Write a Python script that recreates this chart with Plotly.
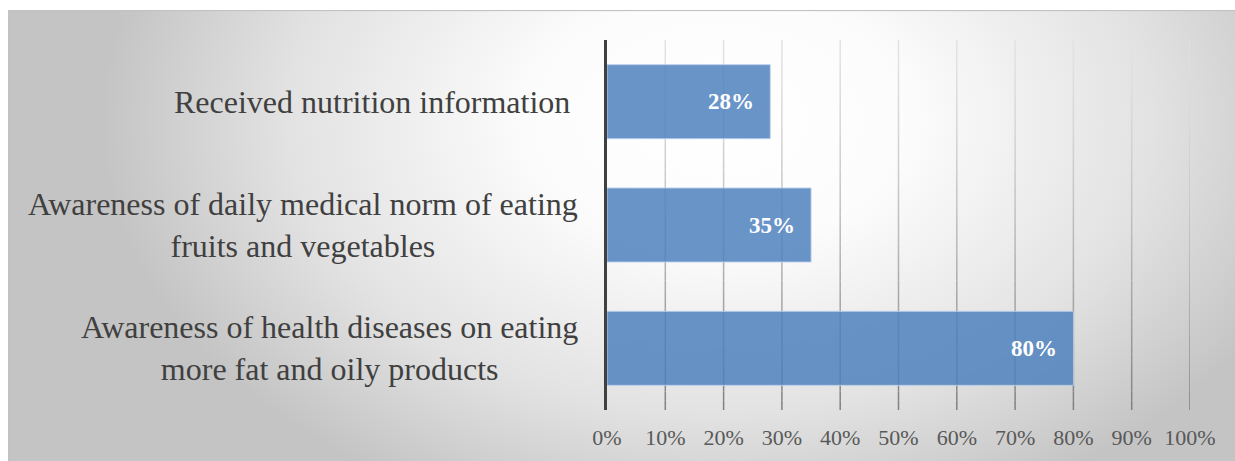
import base64
import plotly.graph_objects as go

# --- data -------------------------------------------------------------
categories = [
    "Received nutrition information\u00a0",
    "Awareness of daily medical norm of eating<br>fruits and vegetables",
    "Awareness of health diseases on eating<br>more fat and oily products",
]
shares = [0.28, 0.35, 0.80]
tick_vals = [0.0, 0.1, 0.2, 0.3, 0.4, 0.5, 0.6, 0.7, 0.8, 0.9, 1.0]
tick_text = ["0%", "10%", "20%", "30%", "40%", "50%", "60%", "70%", "80%", "90%", "100%"]

# --- page geometry (pixels) ------------------------------------------
W, H = 1235, 461
L, R, T, B = 607, 45, 40, 51
PW, PH = W - L - R, H - T - B

def px_to_paper_x(px):
    return (px - L) / PW

def py_to_paper_y(py):
    return (H - B - py) / PH

SERIF = "Liberation Serif, Times New Roman, serif"

# --- chart-area background: soft radial gradient with a thin frame ---
box_x0, box_y0, box_x1, box_y1 = 8, 10, 1242, 470
bw, bh = box_x1 - box_x0, box_y1 - box_y0
svg = f"""<svg xmlns='http://www.w3.org/2000/svg' width='{bw}' height='{bh}' viewBox='0 0 {bw} {bh}' preserveAspectRatio='none'>
<defs>
<radialGradient id='g' gradientUnits='userSpaceOnUse' cx='0' cy='0' r='620'
  gradientTransform='translate(712 110) scale(1 0.68)'>
<stop offset='0' stop-color='#ffffff'/>
<stop offset='0.3' stop-color='#fcfcfc'/>
<stop offset='0.7' stop-color='#e2e2e2'/>
<stop offset='1' stop-color='#c4c4c4'/>
</radialGradient>
</defs>
<rect x='0.5' y='0.5' width='{bw - 1}' height='{bh - 1}' fill='url(#g)' stroke='#c2c2c2' stroke-width='1.2'/>
</svg>"""
bg_uri = "data:image/svg+xml;base64," + base64.b64encode(svg.encode()).decode()

fig = go.Figure()

fig.add_trace(go.Bar(
    x=shares,
    y=categories,
    orientation="h",
    width=0.6,
    marker=dict(color="rgba(79,129,189,0.85)",
                line=dict(color="rgba(185,207,235,0.9)", width=1)),
    hoverinfo="skip",
    showlegend=False,
))

# vertical gridlines, shaded lighter at the top and darker at the bottom
shapes = []
SEG = 40
for v in tick_vals[1:]:
    for k in range(SEG):
        t0, t1 = k / SEG, (k + 1) / SEG
        tm = (t0 + t1) / 2
        g = int(round(226 - 99 * tm ** 1.4))
        shapes.append(dict(
            type="line", xref="x", yref="paper",
            x0=v, x1=v, y0=1 - t0, y1=1 - t1,
            line=dict(color=f"rgb({g},{g},{g})", width=1.5),
            layer="below",
        ))

annotations = []
# category labels, right-aligned block with centred lines
for cat in categories:
    annotations.append(dict(
        xref="paper", yref="y", x=0, y=cat,
        text=cat, showarrow=False, xanchor="right", yanchor="middle",
        align="center", xshift=-27,
        font=dict(family=SERIF, size=32, color="#404040"),
    ))
# value labels inside the bar ends
for cat, v in zip(categories, shares):
    annotations.append(dict(
        xref="x", yref="y", x=v, y=cat,
        text=f"{round(v * 100)}%", showarrow=False,
        xanchor="right", yanchor="middle", xshift=-14,
        font=dict(family=SERIF, size=23, color="#ffffff", weight="bold"),
    ))

fig.update_layout(
    width=W, height=H, autosize=False,
    margin=dict(l=L, r=R, t=T, b=B, pad=0, autoexpand=False),
    paper_bgcolor="#ffffff",
    plot_bgcolor="rgba(0,0,0,0)",
    images=[dict(
        source=bg_uri, xref="paper", yref="paper",
        x=px_to_paper_x(box_x0), y=py_to_paper_y(box_y0),
        sizex=bw / PW, sizey=bh / PH,
        xanchor="left", yanchor="top", sizing="stretch", layer="below",
    )],
    shapes=shapes,
    annotations=annotations,
    xaxis=dict(
        range=[0, 1], showgrid=False, zeroline=False, showline=False,
        tickvals=tick_vals, ticktext=tick_text, automargin=False,
        ticks="outside", ticklen=8, tickcolor="rgba(0,0,0,0)",
        tickfont=dict(family=SERIF, size=22, color="#595959"),
        fixedrange=True,
    ),
    yaxis=dict(
        type="category", categoryorder="array", categoryarray=categories,
        range=[2.5, -0.5], showticklabels=False, showgrid=False,
        zeroline=False, showline=True, linecolor="#404040", linewidth=3,
        ticks="", fixedrange=True, automargin=False,
    ),
    bargap=0.4,
)

fig.write_html("out.html", config={"displayModeBar": False})
